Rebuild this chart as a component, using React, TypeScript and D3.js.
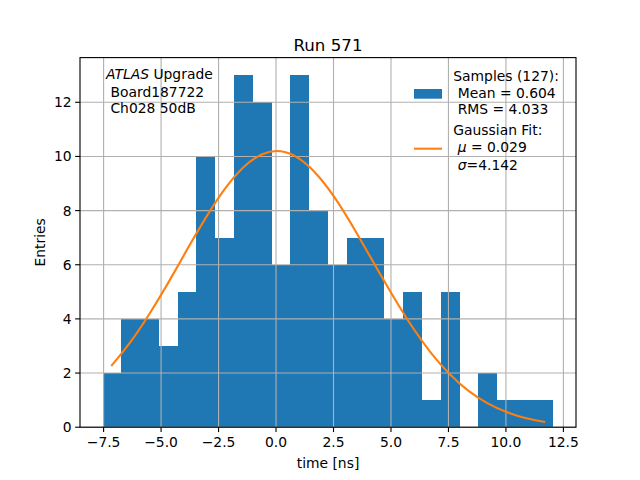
import React from "react";
import * as d3 from "d3";

// ---- data ----
const binLo = -7.546;
const binHi = 12.067;
const counts = [2, 4, 4, 3, 5, 10, 7, 13, 12, 6, 13, 8, 6, 7, 7, 4, 5, 1, 5, 0, 2, 1, 1, 1];
// Gaussian fit values read at bin centres
const fitValues = [2.29, 3.16, 4.19, 5.34, 6.56, 7.74, 8.79, 9.6, 10.08, 10.19, 9.9, 9.26, 8.33, 7.2, 5.99, 4.8, 3.69, 2.73, 1.95, 1.33, 0.88, 0.56, 0.34, 0.2];
const xTicks = [-7.5, -5.0, -2.5, 0.0, 2.5, 5.0, 7.5, 10.0, 12.5];
const yTicks = [0, 2, 4, 6, 8, 10, 12];
const title = "Run 571";
const xLabel = "time [ns]";
const yLabel = "Entries";

const W = 640, H = 480;
const L = 80, R = 576, T = 57.6, B = 427.2;
const FONT = "DejaVu Sans, sans-serif";
const BLUE = "#1f77b4", ORANGE = "#ff7f0e", GRID = "#b0b0b0";

export default function App() {
  const n = counts.length;
  const bw = (binHi - binLo) / n;
  const edges = d3.range(n + 1).map((i) => binLo + i * bw);
  const centers = d3.range(n).map((i) => binLo + (i + 0.5) * bw);
  const margin = 0.05 * (binHi - binLo);
  const x = d3.scaleLinear().domain([binLo - margin, binHi + margin]).range([L, R]);
  const y = d3.scaleLinear().domain([0, 13 * 1.05]).range([B, T]);
  const line = d3
    .line<number>()
    .x((_, i) => x(centers[i]))
    .y((v) => y(v))
    .curve(d3.curveNatural);
  const fs = 13.89;
  return (
    <svg width={W} height={H} style={{ position: "absolute", left: 0, top: 0, background: "#fff" }} fontFamily={FONT}>
      <rect x={0} y={0} width={W} height={H} fill="#fff" />
      {counts.map((c, i) =>
        c > 0 ? (
          <rect key={i} x={x(edges[i])} y={y(c)} width={x(edges[i + 1]) - x(edges[i])} height={y(0) - y(c)} fill={BLUE} shapeRendering="crispEdges" />
        ) : null
      )}
      {xTicks.map((t) => (
        <line key={"gx" + t} x1={x(t)} x2={x(t)} y1={T} y2={B} stroke={GRID} strokeWidth={1.11} />
      ))}
      {yTicks.map((t) => (
        <line key={"gy" + t} x1={L} x2={R} y1={y(t)} y2={y(t)} stroke={GRID} strokeWidth={1.11} />
      ))}
      <path d={line(fitValues) || ""} fill="none" stroke={ORANGE} strokeWidth={2.08} strokeLinecap="square" />
      <rect x={L} y={T} width={R - L} height={B - T} fill="none" stroke="#000" strokeWidth={1.11} />
      {xTicks.map((t) => (
        <g key={"tx" + t}>
          <line x1={x(t)} x2={x(t)} y1={B} y2={B + 4.86} stroke="#000" strokeWidth={1.11} />
          <text x={x(t)} y={B + 19.5} textAnchor="middle" fontSize={fs} fill="#000">
            {(t < 0 ? "\u2212" : "") + Math.abs(t).toFixed(1)}
          </text>
        </g>
      ))}
      {yTicks.map((t) => (
        <g key={"ty" + t}>
          <line x1={L} x2={L - 4.86} y1={y(t)} y2={y(t)} stroke="#000" strokeWidth={1.11} />
          <text x={L - 8.3} y={y(t) + 5} textAnchor="end" fontSize={fs} fill="#000">{t}</text>
        </g>
      ))}
      <text x={(L + R) / 2} y={51} textAnchor="middle" fontSize={16.67} fill="#000">{title}</text>
      <text x={(L + R) / 2} y={468} textAnchor="middle" fontSize={fs} fill="#000">{xLabel}</text>
      <text transform={`translate(45,${(T + B) / 2}) rotate(-90)`} textAnchor="middle" fontSize={fs} fill="#000">{yLabel}</text>
      {/* annotation */}
      <text x={106} y={78.5} fontSize={fs} fill="#000" style={{ whiteSpace: "pre" }}>
        <tspan fontStyle="italic">ATLAS</tspan>{" Upgrade"}
      </text>
      <text x={106} y={96.5} fontSize={fs} fill="#000" style={{ whiteSpace: "pre" }}>{" Board187722"}</text>
      <text x={106} y={112.5} fontSize={fs} fill="#000" style={{ whiteSpace: "pre" }}>{" Ch028 50dB"}</text>
      {/* legend */}
      <rect x={414} y={89} width={28} height={9.7} fill={BLUE} />
      <line x1={414} x2={442} y1={148.7} y2={148.7} stroke={ORANGE} strokeWidth={2.08} />
      <text x={453.3} y={81} fontSize={fs} fill="#000" style={{ whiteSpace: "pre" }}>{"Samples (127):"}</text>
      <text x={453.3} y={97.5} fontSize={fs} fill="#000" style={{ whiteSpace: "pre" }}>{" Mean = 0.604"}</text>
      <text x={453.3} y={114.3} fontSize={fs} fill="#000" style={{ whiteSpace: "pre" }}>{" RMS = 4.033"}</text>
      <text x={453.3} y={134.8} fontSize={fs} fill="#000" style={{ whiteSpace: "pre" }}>{"Gaussian Fit:"}</text>
      <text x={453.3} y={152.2} fontSize={fs} fill="#000" style={{ whiteSpace: "pre" }}>
        {" "}<tspan fontStyle="italic">μ</tspan>{" = 0.029"}
      </text>
      <text x={453.3} y={169.5} fontSize={fs} fill="#000" style={{ whiteSpace: "pre" }}>
        {" "}<tspan fontStyle="italic">σ</tspan>{"=4.142"}
      </text>
    </svg>
  );
}
